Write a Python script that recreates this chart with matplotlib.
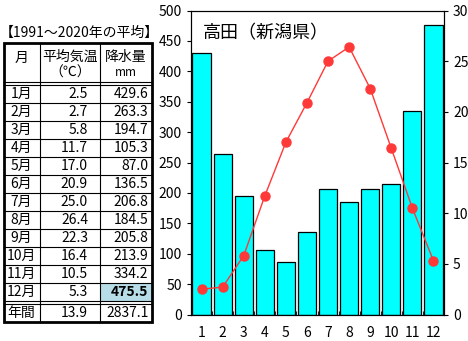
import matplotlib
matplotlib.use("Agg")
import matplotlib.pyplot as plt
import numpy as np

plt.rcParams['font.family'] = ['Noto Sans CJK JP', 'DejaVu Sans']

# data
months = ['1月', '2月', '3月', '4月', '5月', '6月', '7月', '8月', '9月', '10月', '11月', '12月']
temps = [2.5, 2.7, 5.8, 11.7, 17.0, 20.9, 25.0, 26.4, 22.3, 16.4, 10.5, 5.3]
precip = [429.6, 263.3, 194.7, 105.3, 87.0, 136.5, 206.8, 184.5, 205.8, 213.9, 334.2, 475.5]
annual_temp = 13.9
annual_precip = 2837.1
place = '高田（新潟県）'
period = '【1991～2020年の平均】'
headers = ['月', '平均気温', '降水量']
units = ['', '（℃）', 'mm']

W, H = 468, 341
fig = plt.figure(figsize=(W / 100, H / 100), dpi=100)

# table layer, pixel coordinates
tb = fig.add_axes([0, 0, 1, 1])
tb.set_xlim(0, W)
tb.set_ylim(H, 0)
tb.axis('off')

cols = [3.5, 39.5, 100, 151.5]
top, head_bot = 43, 82
row_h = 18
data_top = head_bot + 3
data_bot = data_top + row_h * len(months)
tot_top = data_bot + 3
bot = tot_top + 18
fs = 10

tb.text(0, top - 10, period, fontsize=fs, va='center', ha='left')

# highlighted max precipitation cell
imax = int(np.argmax(precip))
tb.add_patch(plt.Rectangle((cols[2], data_top + imax * row_h), cols[3] - cols[2], row_h,
                           facecolor='#b7dee8', edgecolor='none'))

thin = dict(color='black', lw=0.8)
for c in cols[1:-1]:
    tb.plot([c, c], [top, bot], **thin)
for yy in [head_bot, data_top, data_bot, tot_top]:
    tb.plot([cols[0], cols[-1]], [yy, yy], **thin)
for i in range(1, len(months)):
    yy = data_top + i * row_h
    tb.plot([cols[0], cols[-1]], [yy, yy], **thin)
tb.add_patch(plt.Rectangle((cols[0], top), cols[-1] - cols[0], bot - top,
                           facecolor='none', edgecolor='black', lw=2))

# header
tb.text((cols[0] + cols[1]) / 2, 58, headers[0], fontsize=fs, ha='center', va='center')
for j in (1, 2):
    cx = (cols[j] + cols[j + 1]) / 2
    tb.text(cx, 57, headers[j], fontsize=fs, ha='center', va='center')
    tb.text(cx, 73, units[j], fontsize=fs - 1.5 if j == 2 else fs, ha='center', va='center')

for i, m in enumerate(months):
    cy = data_top + (i + 0.5) * row_h
    tb.text((cols[0] + cols[1]) / 2, cy, m, fontsize=fs, ha='center', va='center')
    tb.text(cols[2] - 12, cy, f'{temps[i]:.1f}', fontsize=fs, ha='right', va='center')
    tb.text(cols[3] - 3, cy, f'{precip[i]:.1f}', fontsize=fs, ha='right', va='center',
            fontweight='bold' if i == imax else 'normal')
cy = (tot_top + bot) / 2
tb.text((cols[0] + cols[1]) / 2, cy, '年間', fontsize=fs, ha='center', va='center')
tb.text(cols[2] - 12, cy, f'{annual_temp:.1f}', fontsize=fs, ha='right', va='center')
tb.text(cols[3] - 3, cy, f'{annual_precip:.1f}', fontsize=fs, ha='right', va='center')

# climate chart
ax = fig.add_axes([191 / W, 1 - 314.5 / H, (444 - 191) / W, (314.5 - 10.5) / H])
x = np.arange(1, 13)
ax.bar(x, precip, width=0.86, color='#00ffff', edgecolor='black', linewidth=0.9, zorder=2)
ax.set_xlim(0.5, 12.5)
ax.set_ylim(0, 500)
ax.set_yticks(range(0, 501, 50))
ax.set_xticks(x)
ax.set_xticklabels([str(i) for i in x])
ax.set_xticks(np.arange(1.5, 12.5, 1), minor=True)
ax.tick_params(axis='x', which='major', length=0, pad=8, labelsize=10)
ax.tick_params(axis='x', which='minor', direction='in', length=3)
ax.tick_params(axis='y', direction='out', length=3, labelsize=10)
ax.text(0.045, 0.925, place, transform=ax.transAxes, fontsize=13, va='center', ha='left')

ax2 = ax.twinx()
ax2.plot(x, temps, color='#ff3838', lw=1, marker='o', ms=6.5, zorder=3)
ax2.set_ylim(0, 30)
ax2.set_yticks(range(0, 31, 5))
ax2.tick_params(axis='y', direction='out', length=3, labelsize=10)

fig.savefig('out.png', dpi=100)
